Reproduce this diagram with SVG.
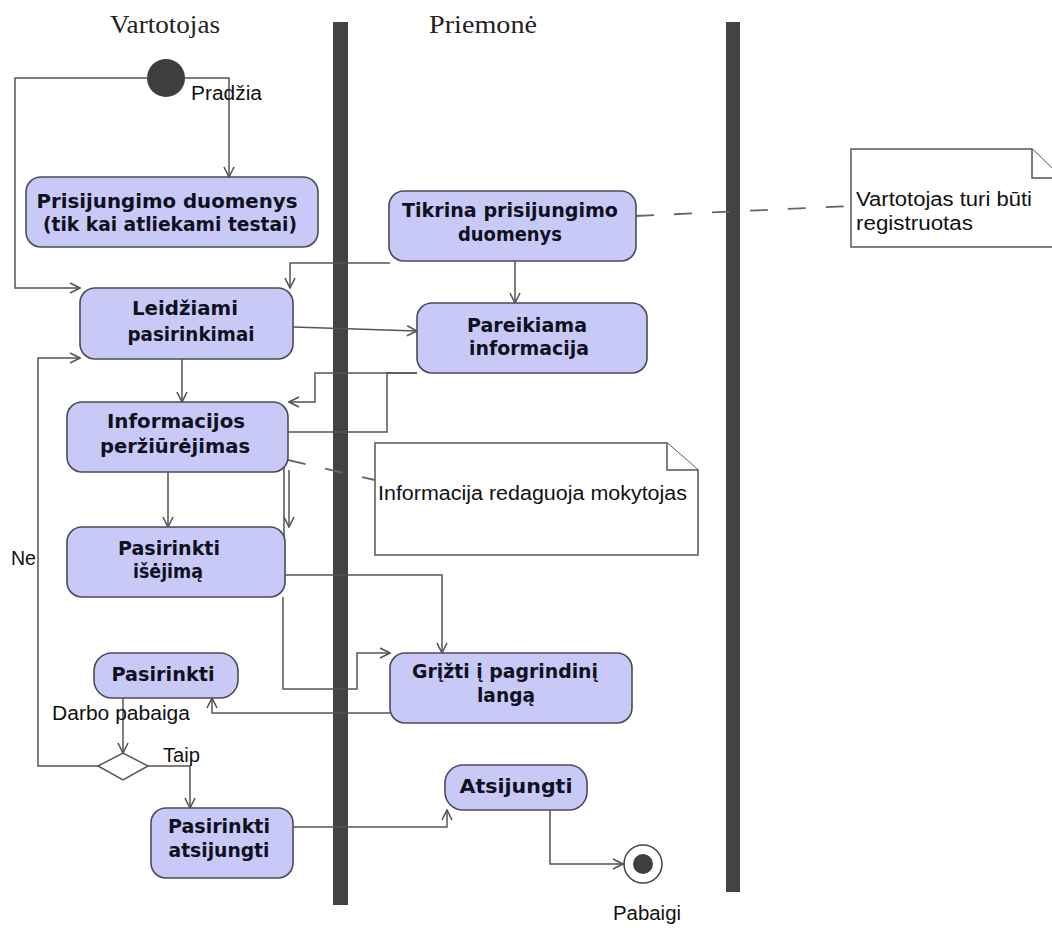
<svg xmlns="http://www.w3.org/2000/svg" width="1052" height="928" viewBox="0 0 1052 928">
<style>
.bar{fill:#434343}
.node rect{fill:#c9c9f7;stroke:#4a4a5a;stroke-width:1.6}
.nt{font-family:"DejaVu Sans",sans-serif;font-weight:bold;font-size:20px;fill:#10101e;text-anchor:middle}
.lt{font-family:"Liberation Sans",Arial,sans-serif;font-size:20px;fill:#111}
.lane{font-family:"Liberation Serif","Times New Roman",serif;font-size:26px;fill:#222;text-anchor:middle}
.c{fill:none;stroke:#555;stroke-width:1.5;marker-end:url(#ah)}
.d{fill:none;stroke:#666;stroke-width:1.8;stroke-dasharray:18 20}
.note path{fill:#fff;stroke:#555;stroke-width:1.5}
</style>
<defs>
<marker id="ah" viewBox="0 0 12 12" refX="11" refY="6" markerWidth="12" markerHeight="12" markerUnits="userSpaceOnUse" orient="auto">
<path d="M1,1 L11,6 L1,11" fill="none" stroke="#555" stroke-width="1.6"/>
</marker>
</defs>
<rect width="1052" height="928" fill="#fff"/>
<g id="lanes">
<rect class="bar" x="333" y="22" width="15" height="883"/>
<rect class="bar" x="726" y="22" width="14" height="870"/>
<text class="lane" x="165" y="33" textLength="110" lengthAdjust="spacingAndGlyphs">Vartotojas</text>
<text class="lane" x="483" y="33" textLength="108" lengthAdjust="spacingAndGlyphs">Priemonė</text>
</g>
<g id="connectors">
<path class="c" d="M185,78 H229 V177"/>
<path class="c" d="M147,78 H15 V288 H80"/>
<path class="c" d="M390,263 H290 V288"/>
<path class="c" d="M515,261 V303"/>
<path class="c" d="M293,327 L417,331"/>
<path class="c" d="M417,373 H315 V402 H289"/>
<path class="c" d="M417,373 H387 V432 H284 V575 H442 V653"/>
<path class="c" d="M182,359 V402"/>
<path class="c" d="M168,472 V527"/>
<path class="c" d="M289,470 V527"/>
<path class="c" d="M283,597 V689 H357 V653 H390"/>
<path class="c" d="M390,713 H212 V698"/>
<path class="c" d="M123,698 V753"/>
<path class="c" d="M98,766 H38 V358 H80"/>
<path class="c" d="M148,766 H190 V808"/>
<path class="c" d="M293,827 H447 V810"/>
<path class="c" d="M550,810 V864 H623"/>
<path class="d" d="M636,216 L851,206"/>
<path class="d" d="M288,460 L375,480"/>
</g>
<g id="start">
<circle cx="166" cy="78" r="19" fill="#3e3e3e"/>
<text class="lt" x="191" y="100" textLength="71" lengthAdjust="spacingAndGlyphs">Pradžia</text>
</g>
<g id="n-prisijungimo" class="node">
<rect x="26" y="177" width="292" height="70" rx="15"/>
<text class="nt" x="167" y="208" textLength="261" lengthAdjust="spacingAndGlyphs">Prisijungimo duomenys</text>
<text class="nt" x="170" y="231" textLength="254" lengthAdjust="spacingAndGlyphs">(tik kai atliekami testai)</text>
</g>
<g id="n-tikrina" class="node">
<rect x="389" y="191" width="247" height="70" rx="15"/>
<text class="nt" x="510" y="217" textLength="216" lengthAdjust="spacingAndGlyphs">Tikrina prisijungimo</text>
<text class="nt" x="510" y="241" textLength="104" lengthAdjust="spacingAndGlyphs">duomenys</text>
</g>
<g id="n-leidziami" class="node">
<rect x="80" y="288" width="213" height="71" rx="15"/>
<text class="nt" x="185" y="315" textLength="106" lengthAdjust="spacingAndGlyphs">Leidžiami</text>
<text class="nt" x="191" y="341" textLength="127" lengthAdjust="spacingAndGlyphs">pasirinkimai</text>
</g>
<g id="n-pareikiama" class="node">
<rect x="417" y="303" width="230" height="70" rx="15"/>
<text class="nt" x="527" y="332" textLength="120" lengthAdjust="spacingAndGlyphs">Pareikiama</text>
<text class="nt" x="529" y="355" textLength="120" lengthAdjust="spacingAndGlyphs">informacija</text>
</g>
<g id="n-informacijos" class="node">
<rect x="67" y="402" width="221" height="70" rx="15"/>
<text class="nt" x="176" y="428" textLength="138" lengthAdjust="spacingAndGlyphs">Informacijos</text>
<text class="nt" x="175" y="453" textLength="150" lengthAdjust="spacingAndGlyphs">peržiūrėjimas</text>
</g>
<g id="n-isejima" class="node">
<rect x="67" y="527" width="218" height="70" rx="15"/>
<text class="nt" x="169" y="555" textLength="102" lengthAdjust="spacingAndGlyphs">Pasirinkti</text>
<text class="nt" x="168" y="578" textLength="70" lengthAdjust="spacingAndGlyphs">išėjimą</text>
</g>
<g id="n-pasirinkti" class="node">
<rect x="94" y="653" width="144" height="45" rx="18"/>
<text class="nt" x="163" y="681" textLength="103" lengthAdjust="spacingAndGlyphs">Pasirinkti</text>
</g>
<g id="n-grizti" class="node">
<rect x="390" y="653" width="242" height="70" rx="15"/>
<text class="nt" x="505" y="678" textLength="186" lengthAdjust="spacingAndGlyphs">Grįžti į pagrindinį</text>
<text class="nt" x="506" y="702" textLength="58" lengthAdjust="spacingAndGlyphs">langą</text>
</g>
<g id="decision">
<path d="M98,766 L123,753 L148,766 L123,780 Z" fill="#fff" stroke="#555" stroke-width="1.5"/>
<text class="lt" x="52" y="720" textLength="138" lengthAdjust="spacingAndGlyphs">Darbo pabaiga</text>
<text class="lt" x="163" y="762" textLength="37" lengthAdjust="spacingAndGlyphs">Taip</text>
<text class="lt" x="11" y="565" textLength="25" lengthAdjust="spacingAndGlyphs">Ne</text>
</g>
<g id="n-pas-atsijungti" class="node">
<rect x="151" y="808" width="142" height="70" rx="15"/>
<text class="nt" x="219" y="833" textLength="102" lengthAdjust="spacingAndGlyphs">Pasirinkti</text>
<text class="nt" x="219" y="857" textLength="101" lengthAdjust="spacingAndGlyphs">atsijungti</text>
</g>
<g id="n-atsijungti" class="node">
<rect x="445" y="765" width="142" height="45" rx="18"/>
<text class="nt" x="516" y="793" textLength="113" lengthAdjust="spacingAndGlyphs">Atsijungti</text>
</g>
<g id="end">
<circle cx="643" cy="864" r="19" fill="#fff" stroke="#444" stroke-width="1.5"/>
<circle cx="643" cy="864" r="10" fill="#3e3e3e"/>
<text class="lt" x="613" y="920" textLength="68" lengthAdjust="spacingAndGlyphs">Pabaigi</text>
</g>
<g id="note1" class="note">
<path d="M375,443 H667 L698,470 V555 H375 Z"/>
<path d="M667,443 V470 H698"/>
<text class="lt" x="378" y="500" textLength="309" lengthAdjust="spacingAndGlyphs">Informacija redaguoja mokytojas</text>
</g>
<g id="note2" class="note">
<path d="M851,149 H1032 L1062,178 V247 H851 Z"/>
<path d="M1032,149 V178 H1062"/>
<text class="lt" x="856" y="206" textLength="176" lengthAdjust="spacingAndGlyphs">Vartotojas turi būti</text>
<text class="lt" x="856" y="230" textLength="117" lengthAdjust="spacingAndGlyphs">registruotas</text>
</g>
</svg>
